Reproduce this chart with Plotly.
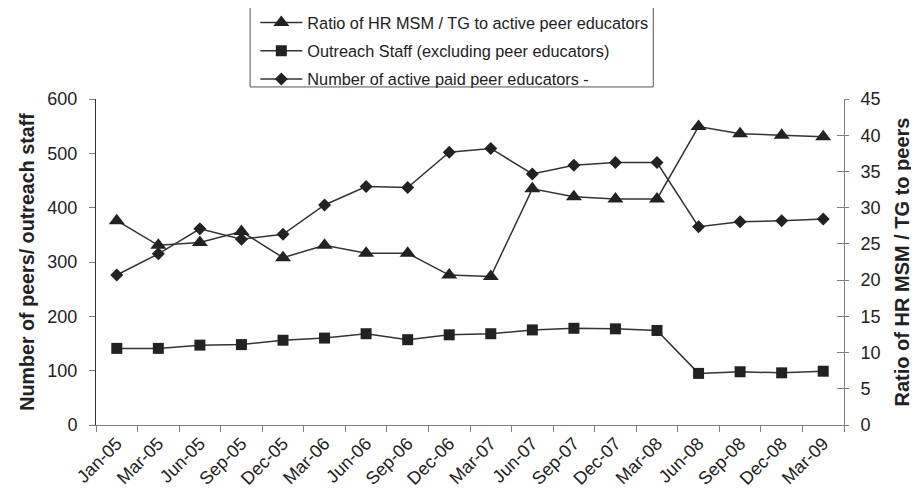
import plotly.graph_objects as go

categories = ["Jan-05", "Mar-05", "Jun-05", "Sep-05", "Dec-05", "Mar-06", "Jun-06", "Sep-06",
              "Dec-06", "Mar-07", "Jun-07", "Sep-07", "Dec-07", "Mar-08", "Jun-08", "Sep-08",
              "Dec-08", "Mar-09"]
ratio_hr_msm_tg = [28.2, 24.8, 25.2, 26.7, 23.1, 24.8, 23.7, 23.7, 20.7, 20.5,
                   32.6, 31.5, 31.2, 31.2, 41.2, 40.2, 40.0, 39.8]
outreach_staff = [141, 141, 147, 148, 156, 160, 168, 157, 166, 168,
                  175, 178, 177, 174, 95, 98, 96, 99]
peer_educators = [276, 315, 361, 342, 351, 405, 439, 437, 502, 509,
                  462, 478, 483, 483, 365, 374, 376, 379]
left_ticks = [0, 100, 200, 300, 400, 500, 600]
right_ticks = [0, 5, 10, 15, 20, 25, 30, 35, 40, 45]

FONT = "Liberation Sans, Arial, sans-serif"
LINE = "#333333"
MARK = "#222222"
AXIS = "#808080"
TXT = "#222222"

fig = go.Figure()
fig.add_trace(go.Scatter(
    x=categories, y=ratio_hr_msm_tg, name="Ratio of HR MSM / TG to active peer educators",
    mode="lines+markers", yaxis="y2", legendgroup="a",
    line=dict(color=LINE, width=1.5),
    marker=dict(symbol="triangle-up", size=14, color=MARK)))
fig.add_trace(go.Scatter(
    x=categories, y=outreach_staff, name="Outreach Staff (excluding peer educators)",
    mode="lines+markers", legendgroup="b",
    line=dict(color=LINE, width=1.5),
    marker=dict(symbol="square", size=11, color=MARK)))
fig.add_trace(go.Scatter(
    x=categories, y=peer_educators, name="Number of active paid peer educators -",
    mode="lines+markers", legendgroup="c",
    line=dict(color=LINE, width=1.5),
    marker=dict(symbol="diamond", size=10, color=MARK)))
# invisible trace to carry the inside ticks of the right axis
fig.add_trace(go.Scatter(x=[categories[0]], y=[0], yaxis="y3", mode="markers",
                         marker=dict(opacity=0), showlegend=False, hoverinfo="skip"))

fig.update_layout(
    width=911, height=491,
    margin=dict(l=88, r=75, t=91, b=74, autoexpand=False),
    paper_bgcolor="white", plot_bgcolor="white",
    font=dict(family=FONT, color=TXT),
    showlegend=True,
    legend=dict(x=0.213, y=1.287, xanchor="left", yanchor="top",
                borderwidth=0, bgcolor="rgba(0,0,0,0)",
                font=dict(size=16.3, family=FONT, color=TXT),
                tracegroupgap=4, itemwidth=42),
    shapes=[dict(type="rect", xref="paper", yref="paper",
                 x0=0.206, x1=0.745, y0=1.037, y1=1.285,
                 line=dict(color="#555555", width=1), fillcolor="rgba(0,0,0,0)",
                 layer="below")],
    xaxis=dict(type="category", range=[-0.5, 17.5], autorange=False,
               tickangle=-45, tickson="boundaries",
               ticks="outside", ticklen=6, tickcolor=AXIS,
               showline=True, linecolor=AXIS, linewidth=1,
               showgrid=False, zeroline=False, automargin=False,
               tickfont=dict(size=18, family=FONT, color=TXT)),
    yaxis=dict(range=[0, 600], tickvals=left_ticks, ticks="outside", ticklen=6,
               ticklabelstandoff=8,
               tickcolor=AXIS, showline=True, linecolor="#333333", linewidth=1,
               showgrid=False, zeroline=False, automargin=False,
               tickfont=dict(size=18, family=FONT, color=TXT),
               title=dict(text="<b>Number of peers/ outreach staff</b>",
                          font=dict(size=19.7, family=FONT, color=TXT), standoff=7)),
    yaxis2=dict(range=[0, 45], tickvals=right_ticks, overlaying="y", side="right",
                ticks="outside", ticklen=4, tickcolor=AXIS, ticklabelstandoff=8,
                showline=True, linecolor=AXIS, linewidth=1,
                showgrid=False, zeroline=False, automargin=False,
                tickfont=dict(size=18, family=FONT, color=TXT),
                title=dict(text="<b>Ratio of HR MSM / TG to peers</b>",
                           font=dict(size=20, family=FONT, color=TXT), standoff=15)),
    yaxis3=dict(range=[0, 45], tickvals=right_ticks, overlaying="y", side="right",
                ticks="inside", ticklen=7, tickcolor=AXIS, showticklabels=False,
                showline=False, showgrid=False, zeroline=False, automargin=False),
)

fig.write_html("out.html")
